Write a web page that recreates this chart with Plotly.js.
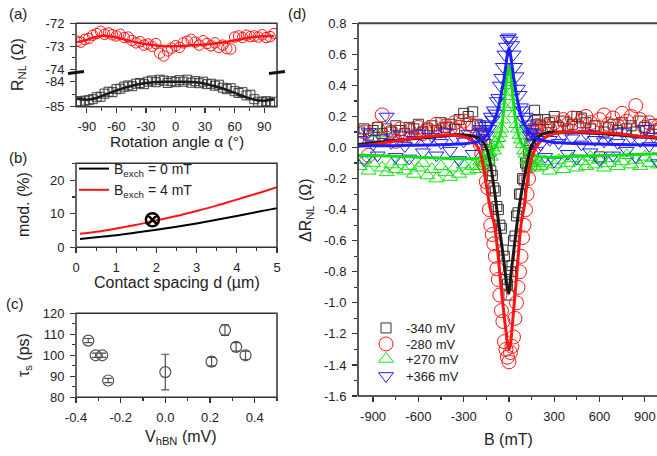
<!DOCTYPE html>
<html><head><meta charset="utf-8">
<script src="https://cdn.plot.ly/plotly-3.0.1.min.js"></script>
<style>html,body{margin:0;padding:0;background:#fff}#plot{width:657px;height:456px}</style>
</head><body><div id="plot"></div>
<script>
// ---------- Panel (a): R_NL vs rotation angle ----------
const angle = [-100,-96,-92,-88,-84,-80,-76,-72,-68,-64,-60,-56,-52,-48,-44,-40,-36,-32,-28,-24,-20,-16,-12,-8,-4,0,4,8,12,16,20,24,28,32,36,40,44,48,52,56,60,64,68,72,76,80,84,88,92,96,100];
const rnlRed = [-72.78,-72.82,-72.70,-72.66,-72.52,-72.45,-72.35,-72.48,-72.42,-72.50,-72.55,-72.48,-72.62,-72.60,-72.75,-72.85,-72.80,-72.95,-72.90,-73.00,-72.88,-73.30,-73.42,-73.20,-73.08,-72.98,-73.05,-72.85,-72.78,-72.70,-72.82,-72.95,-72.76,-72.88,-72.98,-72.85,-73.05,-72.95,-73.10,-73.12,-72.60,-72.55,-72.62,-72.52,-72.58,-72.55,-72.60,-72.50,-72.62,-72.58,-72.45];
const rnlBlack = [-84.78,-84.80,-84.76,-84.74,-84.70,-84.62,-84.60,-84.48,-84.40,-84.42,-84.30,-84.28,-84.20,-84.15,-84.18,-84.08,-84.05,-84.10,-84.00,-83.95,-84.02,-83.92,-83.96,-84.05,-83.98,-84.02,-83.94,-84.00,-83.92,-84.04,-83.98,-84.06,-84.00,-84.10,-84.08,-84.16,-84.12,-84.24,-84.30,-84.26,-84.38,-84.45,-84.42,-84.55,-84.52,-84.70,-84.80,-84.82,-84.78,-84.84,-84.80];
const angleFit = [-100,-90,-80,-70,-60,-50,-40,-30,-20,-10,0,10,20,30,40,50,60,70,80,90,100];
const rnlRedFit = [-72.82,-72.72,-72.58,-72.54,-72.62,-72.72,-72.83,-72.90,-72.96,-73.00,-73.00,-72.98,-72.95,-72.92,-72.87,-72.82,-72.74,-72.66,-72.60,-72.56,-72.55];
const rnlBlackFit = [-84.68,-84.72,-84.65,-84.50,-84.35,-84.22,-84.12,-84.05,-84.01,-84.00,-84.00,-84.00,-84.02,-84.08,-84.18,-84.30,-84.45,-84.60,-84.72,-84.76,-84.70];
const aXTicks = [-90,-60,-30,0,30,60,90];
const aXText = ['-90','-60','-30','0','30','60','90'];
const aYUpTicks = [-72,-73,-74];
const aYUpText = ['-72','-73','-74'];
const aYLoTicks = [-84,-85];
const aYLoText = ['-84','-85'];

// ---------- Panel (b): modulation vs contact spacing ----------
const spacing = [0.1,0.5,1,1.5,2,2.5,3,3.5,4,4.5,5];
const mod0mT = [2.5,3.0,3.6,4.4,5.2,6.1,7.1,8.2,9.3,10.5,11.6];
const mod4mT = [4.0,4.6,5.6,6.7,8.0,9.3,10.8,12.4,14.2,16.0,17.9];
const measSpacing = [1.9];
const measMod = [8.2];
const bXTicks = [0,1,2,3,4,5];
const bXText = ['0','1','2','3','4','5'];
const bYTicks = [0,10,20];
const bYText = ['0','10','20'];

// ---------- Panel (c): spin lifetime vs V_hBN ----------
const vhbn = [-0.345,-0.312,-0.283,-0.256,0.0,0.207,0.267,0.317,0.359];
const tau = [107,100,100,88,92,97,112,104,100];
const tauErr = [1,1,1,1,8.5,2,2.5,2,2];
const cXTicks = [-0.4,-0.2,0,0.2,0.4];
const cXText = ['-0.4','-0.2','0.0','0.2','0.4'];
const cYTicks = [80,90,100,110,120];
const cYText = ['80','90','100','110','120'];

// ---------- Panel (d): Hanle curves ----------
const B_mT = [-990,-960,-930,-900,-870,-840,-810,-780,-750,-720,-690,-660,-630,-600,-570,-540,-510,-480,-450,-420,-390,-360,-330,-300,-270,-240,-210,
 -190,-180,-170,-160,-150,-140,-130,-120,-110,-100,-90,-80,-70,-60,-50,-40,-30,-20,-10,0,10,20,30,40,50,60,70,80,90,100,110,120,130,140,150,160,170,180,190,
 210,240,270,300,330,360,390,420,450,480,510,540,570,600,630,660,690,720,750,780,810,840,870,900,930,960,990];
const dR_m340 = [0.10,0.12,0.08,0.11,0.13,0.09,0.12,0.10,0.14,0.11,0.09,0.13,0.12,0.15,0.10,0.12,0.14,0.11,0.16,0.13,0.15,0.12,0.18,0.22,0.20,0.23,0.15,
 0.14,0.10,0.08,0.05,0.02,-0.03,-0.08,-0.15,-0.18,-0.26,-0.28,-0.38,-0.40,-0.50,-0.52,-0.66,-0.70,-0.85,-0.88,-0.95,-0.80,-0.76,-0.60,-0.57,-0.44,-0.42,-0.30,-0.30,-0.20,-0.21,-0.10,-0.12,-0.02,0.02,0.08,0.12,0.24,0.15,0.18,
 0.14,0.18,0.16,0.20,0.13,0.17,0.12,0.15,0.20,0.19,0.16,0.12,0.14,-0.06,0.10,0.13,0.15,0.11,0.16,0.12,0.14,0.10,0.17,0.13,0.11,0.15,0.12];
const dR_m280 = [0.05,0.10,-0.05,0.08,0.12,0.21,0.06,0.10,0.04,0.12,0.08,0.11,0.06,0.13,0.09,0.12,0.10,0.15,0.11,0.14,0.12,0.16,0.13,0.17,0.15,0.14,0.08,
 0.02,-0.04,-0.10,-0.12,-0.22,-0.26,-0.40,-0.50,-0.56,-0.62,-0.70,-0.78,-0.85,-0.95,-1.05,-1.12,-1.25,-1.30,-1.35,-1.38,-1.32,-1.28,-1.22,-1.10,-1.00,-0.90,-0.80,-0.70,-0.58,-0.50,-0.40,-0.30,-0.20,-0.12,-0.05,0.05,0.10,0.12,0.14,
 0.10,0.14,0.12,0.16,0.13,0.18,0.15,0.19,0.14,0.17,0.20,0.16,0.13,0.18,0.21,0.15,0.19,0.14,0.22,0.17,0.20,0.27,0.18,0.13,0.16,0.10,0.14];
const dR_p270 = [-0.12,-0.08,-0.15,-0.10,0.09,-0.13,-0.16,-0.11,-0.14,-0.09,-0.15,-0.12,-0.17,-0.13,-0.10,-0.18,-0.14,-0.20,-0.12,-0.16,-0.19,-0.13,-0.17,-0.11,-0.15,-0.12,-0.14,
 -0.09,-0.12,-0.07,-0.10,-0.05,-0.08,-0.03,-0.06,0.00,-0.02,0.03,0.02,0.06,0.09,0.12,0.18,0.26,0.33,0.40,0.44,0.42,0.36,0.28,0.22,0.15,0.12,0.08,0.05,0.02,-0.02,-0.04,-0.08,-0.06,-0.10,-0.08,-0.12,-0.09,-0.13,-0.10,
 -0.12,-0.09,-0.15,-0.11,-0.08,-0.14,-0.10,-0.07,-0.13,-0.09,-0.12,-0.06,-0.11,-0.08,-0.13,-0.10,-0.07,-0.12,-0.09,-0.05,-0.11,-0.08,-0.12,-0.06,-0.10,-0.07,-0.11];
const dR_p366 = [0.05,-0.08,0.10,0.02,-0.05,0.06,0.20,0.03,-0.06,0.08,0.01,-0.07,0.05,0.09,-0.03,0.04,0.07,-0.05,0.03,0.10,-0.02,0.06,-0.08,0.04,0.09,-0.04,0.06,
 0.12,0.05,0.10,0.14,0.08,0.15,0.12,0.20,0.18,0.24,0.22,0.30,0.32,0.40,0.45,0.52,0.60,0.65,0.70,0.71,0.69,0.66,0.60,0.52,0.46,0.38,0.34,0.26,0.24,0.18,0.20,0.12,0.15,0.08,0.10,0.04,0.07,-0.02,0.05,
 0.02,-0.06,0.05,-0.09,0.03,0.08,-0.04,0.06,-0.07,0.02,0.09,-0.03,0.05,-0.08,0.04,0.07,-0.05,0.03,0.10,-0.02,0.06,-0.06,0.04,0.12,0.01,0.07,-0.10];
const B_fit = [-1000,-900,-800,-700,-600,-500,-400,-350,-300,-250,-220,-200,-180,-160,-140,-120,-100,-90,-80,-70,-60,-50,-40,-30,-20,-10,0,10,20,30,40,50,60,70,80,90,100,120,140,160,180,200,220,250,300,350,400,500,600,700,800,900,1000];
const fit_m340 = [0.02,0.03,0.04,0.05,0.06,0.07,0.078,0.08,0.08,0.075,0.068,0.06,0.045,0.02,-0.03,-0.12,-0.25,-0.32,-0.40,-0.47,-0.54,-0.61,-0.68,-0.76,-0.84,-0.91,-0.94,-0.85,-0.76,-0.68,-0.60,-0.52,-0.44,-0.37,-0.31,-0.25,-0.20,-0.10,-0.02,0.03,0.06,0.075,0.085,0.095,0.10,0.10,0.10,0.095,0.09,0.082,0.075,0.068,0.06];
const fit_m280 = [0.01,0.02,0.035,0.05,0.065,0.075,0.08,0.078,0.07,0.05,0.02,-0.01,-0.07,-0.18,-0.30,-0.41,-0.48,-0.54,-0.62,-0.71,-0.82,-0.92,-1.01,-1.10,-1.18,-1.26,-1.30,-1.27,-1.17,-1.06,-0.95,-0.84,-0.72,-0.60,-0.50,-0.44,-0.39,-0.23,-0.11,-0.04,0.0,0.03,0.05,0.07,0.09,0.10,0.10,0.10,0.095,0.09,0.08,0.07,0.065];
const fit_p270 = [-0.05,-0.052,-0.055,-0.058,-0.062,-0.066,-0.07,-0.072,-0.073,-0.072,-0.07,-0.067,-0.062,-0.055,-0.045,-0.03,-0.01,0.005,0.02,0.045,0.075,0.12,0.19,0.29,0.40,0.49,0.52,0.48,0.39,0.29,0.20,0.14,0.095,0.06,0.035,0.015,0.0,-0.02,-0.035,-0.045,-0.052,-0.057,-0.06,-0.062,-0.062,-0.06,-0.058,-0.055,-0.052,-0.049,-0.046,-0.043,-0.04];
const fit_p366 = [0.01,0.011,0.012,0.013,0.015,0.017,0.02,0.022,0.025,0.03,0.035,0.04,0.05,0.065,0.09,0.125,0.165,0.19,0.22,0.26,0.30,0.35,0.40,0.46,0.53,0.60,0.64,0.60,0.53,0.46,0.40,0.34,0.29,0.25,0.21,0.18,0.155,0.12,0.095,0.075,0.062,0.052,0.045,0.04,0.033,0.03,0.027,0.024,0.022,0.02,0.018,0.016,0.015];
const dXTicks = [-900,-600,-300,0,300,600,900];
const dXText = ['-900','-600','-300','0','300','600','900'];
const dYTicks = [0.8,0.6,0.4,0.2,0,-0.2,-0.4,-0.6,-0.8,-1.0,-1.2,-1.4,-1.6];
const dYText = ['0.8','0.6','0.4','0.2','0.0','-0.2','-0.4','-0.6','-0.8','-1.0','-1.2','-1.4','-1.6'];
const dLegend = ['-340 mV','-280 mV','+270 mV','+366 mV'];

// ---------- layout helpers ----------
const W = 657, H = 456;
const px = x => x / W;
const py = y => 1 - y / H;
const FONT = 'Liberation Sans, Arial, sans-serif';
const RED = 'rgb(255,20,20)', GREEN = 'rgb(20,225,20)', BLUE = 'rgb(30,30,255)', BLK = 'rgb(25,25,25)';

const traces = [
  // (a)
  {x: angle, y: rnlRed, xaxis:'x', yaxis:'y', mode:'markers', showlegend:false,
   marker:{symbol:'circle-open', size:10.5, color:RED, line:{width:1}}},
  {x: angleFit, y: rnlRedFit, xaxis:'x', yaxis:'y', mode:'lines', line:{color:RED, width:2.5, shape:'spline'}, showlegend:false},
  {x: angle, y: rnlBlack, xaxis:'x', yaxis:'y2', mode:'markers', showlegend:false,
   marker:{symbol:'square-open', size:9, color:'rgb(60,60,60)', line:{width:1}}},
  {x: angleFit, y: rnlBlackFit, xaxis:'x', yaxis:'y2', mode:'lines', line:{color:BLK, width:2.5, shape:'spline'}, showlegend:false},
  // (b)
  {x: spacing, y: mod0mT, xaxis:'x2', yaxis:'y3', mode:'lines', name:'B<sub>exch</sub> = 0 mT', legend:'legend2',
   line:{color:'black', width:2, shape:'spline'}},
  {x: spacing, y: mod4mT, xaxis:'x2', yaxis:'y3', mode:'lines', name:'B<sub>exch</sub> = 4 mT', legend:'legend2',
   line:{color:RED, width:2, shape:'spline'}},
  {x: measSpacing, y: measMod, xaxis:'x2', yaxis:'y3', mode:'markers', showlegend:false,
   marker:{symbol:'circle-x-open', size:13, color:'black', line:{width:2.5}}},
  // (c)
  {x: vhbn, y: tau, xaxis:'x3', yaxis:'y4', mode:'markers', showlegend:false,
   marker:{symbol:'circle-open', size:11, color:'rgb(80,80,80)', line:{width:1.2}},
   error_y:{type:'data', array:tauErr, color:'rgb(80,80,80)', thickness:1.2, width:4}},
  // (d) data
  {x: B_mT, y: dR_m340, xaxis:'x4', yaxis:'y5', mode:'markers', name:dLegend[0], legend:'legend',
   marker:{symbol:'square-open', size:10, color:'rgb(50,50,50)', line:{width:1}}},
  {x: B_mT, y: dR_m280, xaxis:'x4', yaxis:'y5', mode:'markers', name:dLegend[1], legend:'legend3',
   marker:{symbol:'circle-open', size:14, color:RED, line:{width:1}}},
  {x: B_mT, y: dR_p270, xaxis:'x4', yaxis:'y5', mode:'markers', name:dLegend[2], legend:'legend4',
   marker:{symbol:'triangle-up-open', size:13, color:GREEN, line:{width:1}}},
  {x: B_mT, y: dR_p366, xaxis:'x4', yaxis:'y5', mode:'markers', name:dLegend[3], legend:'legend5',
   marker:{symbol:'triangle-down-open', size:13, color:BLUE, line:{width:1}}},
  // (d) fits
  {x: B_fit, y: fit_p270, xaxis:'x4', yaxis:'y5', mode:'lines', showlegend:false, line:{color:GREEN, width:3, shape:'spline'}},
  {x: B_fit, y: fit_m340, xaxis:'x4', yaxis:'y5', mode:'lines', showlegend:false, line:{color:BLK, width:3, shape:'spline'}},
  {x: B_fit, y: fit_m280, xaxis:'x4', yaxis:'y5', mode:'lines', showlegend:false, line:{color:RED, width:3, shape:'spline'}},
  {x: B_fit, y: fit_p366, xaxis:'x4', yaxis:'y5', mode:'lines', showlegend:false, line:{color:BLUE, width:3, shape:'spline'}}
];

const tickFont = {family:FONT, size:13, color:'#222'};
function ax(o, isX){
  return Object.assign({showgrid:false, zeroline:false, showline:false, ticks:'outside', ticklen:5, tickwidth:1.2,
    tickcolor:'#333', tickfont:tickFont, tickmode:'array', fixedrange:true, ticklabelstandoff: isX ? 3 : 3}, o);
}
function mnr(t0, dt){ return {ticks:'outside', ticklen:3, tickcolor:'#333', tickmode:'linear', tick0:t0, dtick:dt}; }
function leg(x, y, size){
  return {x:px(x), y:py(y), xanchor:'left', yanchor:'top', bgcolor:'rgba(0,0,0,0)', borderwidth:0,
    font:{family:FONT, size:size, color:'#222'}, tracegroupgap:0, itemsizing:'trace'};
}
function ann(text, x, y, size, angle){
  const a = {text:text, x:px(x), y:py(y), xref:'paper', yref:'paper', xanchor:'center', yanchor:'middle',
    showarrow:false, font:{family:FONT, size:size, color:'#222'}};
  if (angle) a.textangle = angle;
  return a;
}
const X1 = [px(76), px(277)];

const layout = {
  width: W, height: H, margin:{l:0,r:0,t:0,b:0}, paper_bgcolor:'white', plot_bgcolor:'rgba(0,0,0,0)',
  font:{family:FONT, color:'#222'},
  xaxis: ax({domain:X1, anchor:'y2', range:[-101,103], tickvals:aXTicks, ticktext:aXText, minor:mnr(-75,30)}, true),
  yaxis: ax({domain:[py(72.7), py(23.3)], anchor:'x', range:[-74.15,-72], tickvals:aYUpTicks, ticktext:aYUpText, minor:mnr(-72.5,1)}),
  yaxis2: ax({domain:[py(106.7), py(72.7)], anchor:'x', range:[-85,-83.64], tickvals:aYLoTicks, ticktext:aYLoText, minor:mnr(-84.5,1)}),
  xaxis2: ax({domain:X1, anchor:'y3', range:[0,5], tickvals:bXTicks, ticktext:bXText, minor:mnr(0.5,1)}, true),
  yaxis3: ax({domain:[py(247.3), py(163.3)], anchor:'x2', range:[0,25], tickvals:bYTicks, ticktext:bYText, minor:mnr(5,10)}),
  xaxis3: ax({domain:X1, anchor:'y4', range:[-0.4,0.5], tickvals:cXTicks, ticktext:cXText, minor:mnr(-0.3,0.2)}, true),
  yaxis4: ax({domain:[py(397.3), py(313.3)], anchor:'x3', range:[80,120], tickvals:cYTicks, ticktext:cYText, minor:mnr(85,10)}),
  xaxis4: ax({domain:[px(358), 1], anchor:'y5', range:[-1000,981], tickvals:dXTicks, ticktext:dXText, minor:mnr(-750,300)}, true),
  yaxis5: ax({domain:[py(396), py(23.3)], anchor:'x4', range:[-1.6,0.8], tickvals:dYTicks, ticktext:dYText, minor:mnr(0.7,0.2)}),
  legend: leg(366, 313, 13),
  legend3: leg(366, 329, 13),
  legend4: leg(366, 344, 13),
  legend5: leg(366, 361, 13),
  legend2: leg(74, 153, 14),
  shapes: [
    {type:'rect', xref:'paper', yref:'paper', x0:px(76), x1:px(277), y0:py(106.7), y1:py(23.3), line:{color:'#333', width:1.5}},
    {type:'rect', xref:'paper', yref:'paper', x0:px(76), x1:px(277), y0:py(247.3), y1:py(163.3), line:{color:'#333', width:1.5}},
    {type:'rect', xref:'paper', yref:'paper', x0:px(76), x1:px(277), y0:py(397.3), y1:py(313.3), line:{color:'#333', width:1.5}},
    {type:'line', xref:'paper', yref:'paper', x0:px(358), x1:1, y0:py(23.3), y1:py(23.3), line:{color:'#444', width:2}},
    {type:'line', xref:'paper', yref:'paper', x0:px(358), x1:px(358), y0:py(396), y1:py(23.3), line:{color:'#222', width:1.5}},
    {type:'line', xref:'paper', yref:'paper', x0:px(358), x1:1, y0:py(396), y1:py(396), line:{color:'#222', width:1.5}},
    {type:'line', xref:'paper', yref:'paper', x0:px(68), x1:px(84), y0:py(73.5), y1:py(71.5), line:{color:'#111', width:3}},
    {type:'line', xref:'paper', yref:'paper', x0:px(269), x1:px(285), y0:py(73.5), y1:py(71.5), line:{color:'#111', width:3}}
  ],
  annotations: [
    ann('(a)', 18, 14, 15), ann('(b)', 18, 157, 15), ann('(c)', 15, 303, 15), ann('(d)', 297, 14, 15),
    ann('R<sub>NL</sub> (Ω)', 18, 65, 16, -90),
    ann('Rotation angle α (°)', 177, 141, 15.5),
    ann('mod. (%)', 23, 205, 16, -90),
    ann('Contact spacing d (µm)', 177, 282.5, 16),
    ann('τ<sub>s</sub> (ps)', 24, 355, 16, -90),
    ann('V<sub>hBN</sub> (mV)', 181, 437, 16),
    ann('ΔR<sub>NL</sub> (Ω)', 306, 210, 16, -90),
    ann('B (mT)', 508, 439, 16)
  ]
};
Plotly.newPlot('plot', traces, layout, {staticPlot:true, displayModeBar:false});
</script></body></html>
